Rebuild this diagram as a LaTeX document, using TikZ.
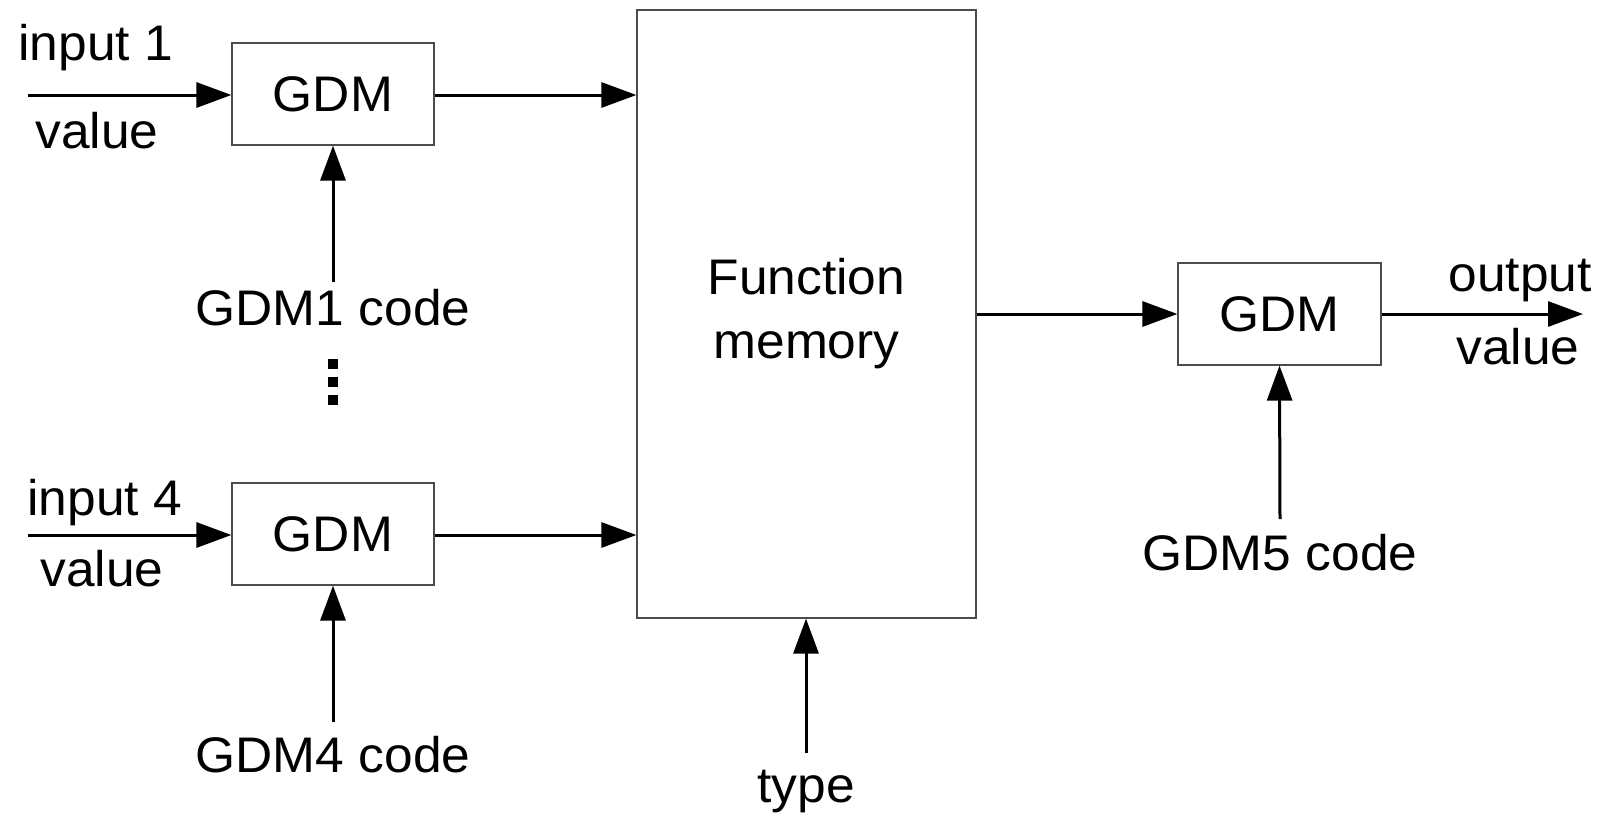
\documentclass[tikz,border=0pt]{standalone}
\usepackage{fontspec}
\setmainfont{Liberation Sans}[FakeStretch=1.03]
\usetikzlibrary{arrows.meta,positioning}

\begin{document}
\begin{tikzpicture}[x=0.5pt,y=-0.5pt,
    blockbox/.style={draw=black!70, line width=0.6pt, inner sep=0pt,
        font=\fontsize{25}{32}\selectfont, align=center},
    sig/.style={line width=1.5pt, -{Triangle[length=17.5pt,width=12.5pt]}},
    lbl/.style={inner sep=0pt, font=\fontsize{25}{32}\selectfont}]

    \useasboundingbox (0,0) rectangle (1601,814);

    % 1. the blocks
    \node[blockbox, minimum width=101pt, minimum height=51pt] (gdm1) at (333,94) {GDM};
    \node[blockbox, minimum width=101pt, minimum height=51pt] (gdm4) at (333,534) {GDM};
    \node[blockbox, minimum width=169.5pt, minimum height=304pt] (fm) at (806.5,314) {Function\\memory};
    \node[blockbox, minimum width=101.5pt, minimum height=51pt] (gdm5) at (1279.5,314) {GDM};

    % 2. input side, upper GDM
    \coordinate (in1) at (28,95);
    \node[lbl, anchor=base west] (in1top) at (18,60) {input 1};
    \node[lbl, anchor=base west] (in1bot) at (35,148) {value};
    \draw[sig] (in1) -- (in1 -| gdm1.west);
    \draw[sig] (gdm1.east |- in1) -- (in1 -| fm.west);
    \node[lbl, anchor=base] (code1) at (333,325) {GDM1 code};
    \coordinate (c1) at (333,282);
    \draw[sig] (c1) -- (gdm1.south);

    % the dots between both inputs
    \foreach \yy in {364,382,400}
        \fill (328,\yy-5) rectangle (338,\yy+5);

    % 3. input side, lower GDM
    \coordinate (in4) at (28,535);
    \node[lbl, anchor=base west] (in4top) at (27,515) {input 4};
    \node[lbl, anchor=base west] (in4bot) at (40,586) {value};
    \draw[sig] (in4) -- (in4 -| gdm4.west);
    \draw[sig] (gdm4.east |- in4) -- (in4 -| fm.west);
    \node[lbl, anchor=base] (code4) at (333,772) {GDM4 code};
    \coordinate (c4) at (333,722);
    \draw[sig] (c4) -- (gdm4.south);

    % 4. type into the memory
    \node[lbl, anchor=base] (typ) at (806,802) {type};
    \coordinate (ct) at (806,753);
    \draw[sig] (ct) -- (ct |- fm.south);

    % 5. output side
    \draw[sig] (fm.east |- gdm5.west) -- (gdm5.west);
    \coordinate (out) at (1583,314);
    \draw[sig] (gdm5.east) -- (out);
    \node[lbl, anchor=base east] (outtop) at (1592,291) {output};
    \node[lbl, anchor=base east] (outbot) at (1580,364) {value};
    \node[lbl, anchor=base] (code5) at (1280,570) {GDM5 code};
    \coordinate (c5) at (1280,519);
    \draw[sig] (c5) -- (gdm5.south);

\end{tikzpicture}
\end{document}
